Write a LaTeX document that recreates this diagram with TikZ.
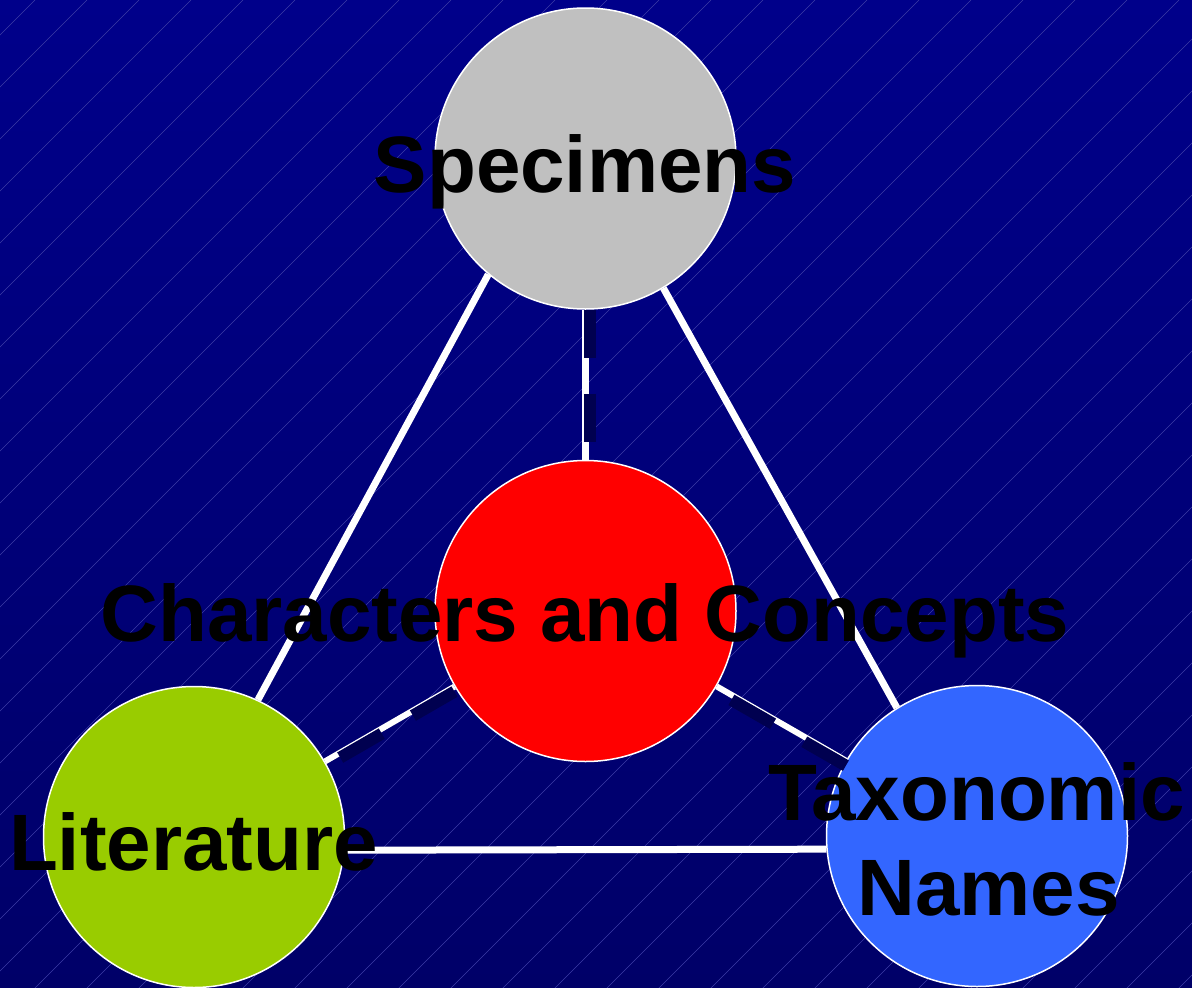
\documentclass[tikz,border=0pt]{standalone}
\usepackage{fontspec}
\setmainfont{Liberation Sans}
\definecolor{bgtop}{RGB}{0,0,138}
\definecolor{bgbot}{RGB}{0,0,104}
\definecolor{hatch}{RGB}{60,60,165}
\definecolor{darkdash}{RGB}{0,0,80}
\definecolor{specgray}{RGB}{192,192,192}
\definecolor{charred}{RGB}{255,0,0}
\definecolor{litgreen}{RGB}{153,204,0}
\definecolor{taxblue}{RGB}{51,102,255}
\tikzset{
  bubble/.style={circle, draw=white, line width=1.5pt, minimum size=301pt, inner sep=0pt},
  link/.style={draw=white, line width=7pt},
  darklink/.style={draw=darkdash, line width=12pt, dash pattern=on 48pt off 36pt},
  biglabel/.style={font=\bfseries\fontsize{80}{96}\selectfont, text=black, anchor=base, inner sep=0pt}
}
\begin{document}
\begin{tikzpicture}[x=1pt,y=-1pt]
\useasboundingbox (0,0) rectangle (1192,988);
\shade[top color=bgtop, bottom color=bgbot] (0,0) rectangle (1192,988);
\begin{scope}
\clip (0,0) rectangle (1192,988);
\foreach \c in {0,...,44}{
  \draw[hatch, line width=0.5pt] ({35+52*\c},0) -- ({35+52*\c-1000},1000);
}
\end{scope}
% circle positions (invisible, to define anchors)
\path (585.5,158.5) node[bubble, draw=none] (spec) {}
      (585.5,611) node[bubble, draw=none] (char) {}
      (194,837) node[bubble, draw=none] (lit) {}
      (977,836) node[bubble, draw=none] (tax) {};
% white links behind circles
\draw[link] (spec.230.6) -- (lit.65);
\draw[link] (spec.301.8) -- (tax.122.3);
\draw[link] (lit.355) -- (tax.185.4);
\draw[link] (spec.south) -- (char.north);
\draw[link, line width=6pt] (char) -- (lit);
\draw[link, line width=6pt] (tax) -- (char);
% circles
\node[bubble, fill=specgray] at (spec) {};
\node[bubble, fill=charred] at (char) {};
\node[bubble, fill=litgreen] at (lit) {};
\node[bubble, fill=taxblue] at (tax) {};
% dark dashes over the links
\draw[darklink, transform canvas={xshift=4pt}] (spec.south) -- (char.north);
\draw[darklink, transform canvas={yshift=-5pt}] (char) -- (lit);
\draw[darklink, transform canvas={yshift=-5pt}] (tax) -- (char);
% labels
\node[biglabel] (tspec) at (585,192) {Specimens};
\node[biglabel] (tchar) at (585,641) {Characters and Concepts};
\node[biglabel] (tlit) at (193.5,870) {Literature};
\node[biglabel] (ttax) at (976.5,820) {Taxonomic};
\node[biglabel] (tnames) at (988.5,915) {Names};
\end{tikzpicture}
\end{document}
